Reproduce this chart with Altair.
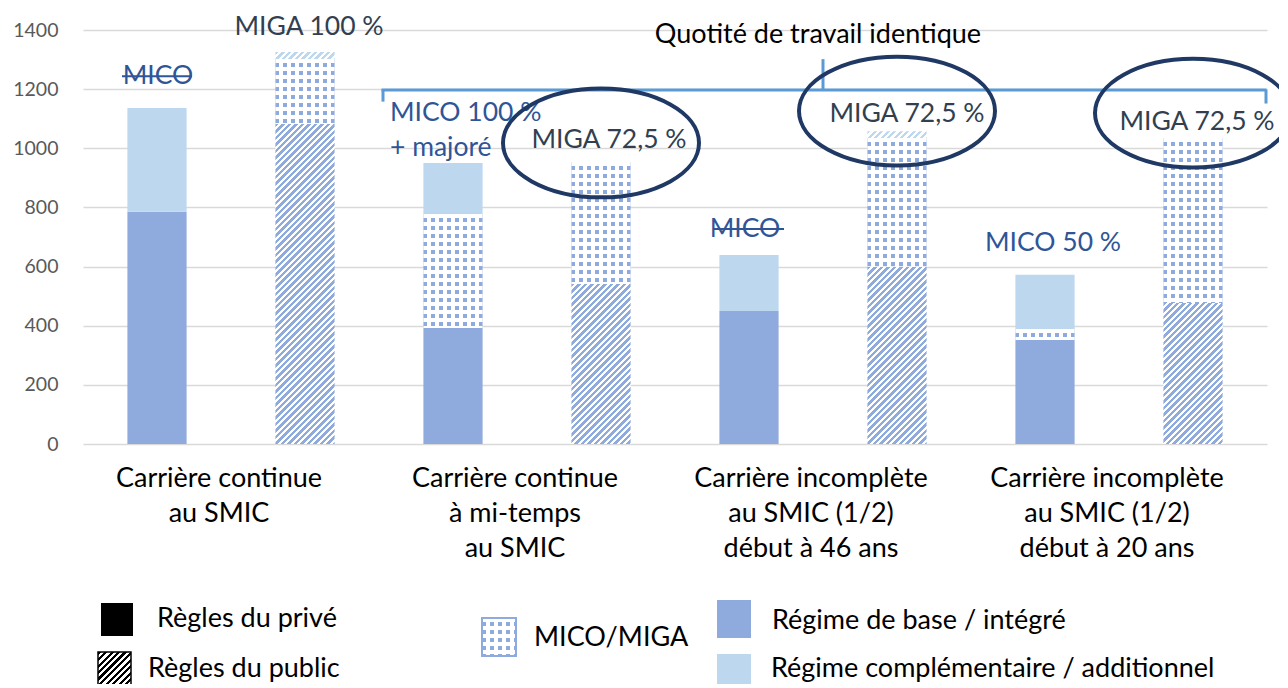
import altair as alt
import pandas as pd

# ---------------- data ----------------
groups = ["Carrière continue|au SMIC",
          "Carrière continue|à mi-temps|au SMIC",
          "Carrière incomplète|au SMIC (1/2)|début à 46 ans",
          "Carrière incomplète|au SMIC (1/2)|début à 20 ans"]
rules = ["privé", "public"]
base_prive = [785, 392, 450, 352]
mico_prive = [0, 386, 0, 37]
compl_prive = [351, 172, 189, 183]
base_public = [1082, 541, 599, 477]
miga_public = [220, 413, 436, 558]
compl_public = [24, 0, 23, 0]
y_ticks = [0, 200, 400, 600, 800, 1000, 1200, 1400]

ann_text = ["MIGA 100 %", "MICO", "MICO 100 %", "+ majoré", "MIGA 72,5 %",
            "MICO", "MIGA 72,5 %", "MICO 50 %", "MIGA 72,5 %"]
ann_group = [0, 0, 1, 1, 1, 2, 2, 3, 3]
ann_rule = ["public", "privé", "privé", "privé", "public", "privé", "public", "privé", "public"]
ann_y = [1415, 1248, 1123, 1004, 1032, 731, 1121, 683, 1092]

strike_group = [0, 2]
strike_y = [1244, 727]

ellipse_group = [1, 2, 3]
ellipse_y = [1018, 1126, 1119]

bracket_text = "Quotité de travail identique"
bracket_text_y = 1388
bracket_y = 1197
legend_labels = ["Règles du privé", "Règles du public", "MICO/MIGA",
                 "Régime de base / intégré", "Régime complémentaire / additionnel"]

# ---------------- styling ----------------
W, H, YMAX = 1184, 414, 1400
PX = H / YMAX
BAR_W = W / 8 * 0.4
BASE = "#8faadc"
COMPL = "#bdd7ee"
WHITE = "#ffffff"
CLEAR = "rgba(255,255,255,0)"
BLUE_TXT = "#2f5597"
DARK_TXT = "#333f50"
NAVY = "#1f3864"
BRACKET = "#5b9bd5"
FONT = "Lato"


def band_stops(c1, c2, length, period, frac=0.5):
    stops = []
    s = 0.0
    while s < length - 1e-6:
        m = min(s + period * frac, length)
        e = min(s + period, length)
        stops += [{"offset": round(s / length, 5), "color": c1},
                  {"offset": round(m / length, 5), "color": c1}]
        if m < length:
            stops += [{"offset": round(m / length, 5), "color": c2},
                      {"offset": round(e / length, 5), "color": c2}]
        s += period
    return stops


def hatch(c1, c2, w, h, period=6.5):
    L = w + h
    k = L / (w * w + h * h)
    return {"gradient": "linear", "x1": 0, "y1": 0, "x2": round(k * w, 6),
            "y2": round(k * h, 6), "stops": band_stops(c1, c2, L, period)}


def columns(c1, c2, w, period=8.0, frac=0.45):
    return {"gradient": "linear", "x1": 0, "y1": 0, "x2": 1, "y2": 0,
            "stops": band_stops(c1, c2, w, period, frac)}


def rows_(c1, c2, h, period=8.0, frac=0.55):
    return {"gradient": "linear", "x1": 0, "y1": 0, "x2": 0, "y2": 1,
            "stops": band_stops(c1, c2, h, period, frac)}


# ---------------- table ----------------
recs = []
for gi, g in enumerate(groups):
    for rule, comps in (("privé", [("base", base_prive[gi]), ("mico", mico_prive[gi]), ("compl", compl_prive[gi])]),
                        ("public", [("base", base_public[gi]), ("mico", miga_public[gi]), ("compl", compl_public[gi])])):
        acc = 0
        for comp, v in comps:
            if v > 0:
                recs.append({"id": len(recs), "group": g, "rule": rule, "comp": comp,
                             "y0": acc, "y1": acc + v})
            acc += v
df = pd.DataFrame(recs)


def fill_a(r):
    h = (r["y1"] - r["y0"]) * PX
    if r["comp"] == "mico":
        return columns(BASE, WHITE, BAR_W)
    col = BASE if r["comp"] == "base" else COMPL
    if r["rule"] == "privé":
        return col
    return hatch(col, WHITE, BAR_W, h)


conds_a = [{"test": f"datum.id === {r['id']}", "value": fill_a(r)} for r in recs]
conds_b = [{"test": f"datum.id === {r['id']}",
            "value": rows_(WHITE, CLEAR, (r["y1"] - r["y0"]) * PX)}
           for r in recs if r["comp"] == "mico"]

xscale = alt.Scale(domain=groups, paddingInner=0, paddingOuter=0)
yscale = alt.Scale(domain=[0, YMAX], nice=False)
XO = alt.XOffset("rule:N", sort=rules, scale=alt.Scale(domain=rules, paddingInner=0.6, paddingOuter=0.3))

AX = alt.Axis(title=None, labelExpr="split(datum.label, '|')", labelAngle=0,
              labelFontSize=27, labelLineHeight=35, labelPadding=21,
              labelColor="#000000", labelFont=FONT, ticks=False, tickSize=0,
              domain=False, labelLimit=400, labelOffset=-12, grid=False,
              labelOverlap=False)
AY = alt.Axis(values=y_ticks, format="d", title=None, grid=True, gridColor="#d9d9d9",
              gridWidth=1.3, domain=False, ticks=False, tickSize=0,
              labelPadding=25, labelFontSize=19.5, labelColor="#595959",
              labelFont=FONT)


def X_(field="group:N"):
    return alt.X(field, sort=groups, scale=xscale, axis=AX)


def Y_(field):
    return alt.Y(field, scale=yscale, axis=AY)


bars_a = alt.Chart(df).mark_bar().encode(
    x=X_(), xOffset=XO, y=Y_("y0:Q"), y2="y1:Q",
    fill={"condition": conds_a, "value": BASE})

bars_b = alt.Chart(df).transform_filter(alt.datum.comp == "mico").mark_bar().encode(
    x=X_(), xOffset=XO, y=Y_("y0:Q"), y2="y1:Q",
    fill={"condition": conds_b, "value": CLEAR})

layers = [bars_a, bars_b]

# bracket "Quotité de travail identique"
br = pd.DataFrame({"group": [groups[1], groups[2], groups[3]],
                   "y": [bracket_y, bracket_y, bracket_y]})
layers.append(alt.Chart(br).transform_filter(alt.datum.group == groups[2]).mark_tick(
    orient="horizontal", size=885, thickness=3, color=BRACKET, opacity=1, xOffset=1).encode(
    x=X_(), y=Y_("y:Q")))
layers.append(alt.Chart(br).transform_filter(alt.datum.group == groups[1])
              .transform_calculate(yc="datum.y - 19").mark_tick(
    orient="vertical", size=12, thickness=3, color=BRACKET, opacity=1, xOffset=-144).encode(
    x=X_(), y=Y_("yc:Q")))
layers.append(alt.Chart(br).transform_filter(alt.datum.group == groups[3])
              .transform_calculate(yc="datum.y - 22").mark_tick(
    orient="vertical", size=14, thickness=3, color=BRACKET, opacity=1, xOffset=147).encode(
    x=X_(), y=Y_("yc:Q")))
layers.append(alt.Chart(br).transform_filter(alt.datum.group == groups[2])
              .transform_calculate(yc="datum.y + 52").mark_tick(
    orient="vertical", size=31, thickness=3, color=BRACKET, opacity=1).encode(
    x=X_(), y=Y_("yc:Q")))
layers.append(alt.Chart(br).transform_filter(alt.datum.group == groups[2])
              .transform_calculate(ty=str(bracket_text_y)).mark_text(
    text=bracket_text, font=FONT, fontSize=27, color="#000000", baseline="alphabetic",
    dy=9, dx=-5).encode(x=X_(), y=Y_("ty:Q")))

# annotations
ann_df = pd.DataFrame({"k": list(range(len(ann_text))), "text": ann_text,
                       "group": [groups[i] for i in ann_group], "rule": ann_rule, "y": ann_y})
ann_style = [(DARK_TXT, "center", 4), (BLUE_TXT, "center", 1), (BLUE_TXT, "left", -63),
             (BLUE_TXT, "left", -63), (DARK_TXT, "center", 8), (BLUE_TXT, "center", -4),
             (DARK_TXT, "center", 10), (BLUE_TXT, "center", 8), (DARK_TXT, "center", 4)]
for k, (col, al, dx) in enumerate(ann_style):
    layers.append(alt.Chart(ann_df).transform_filter(alt.datum.k == k).mark_text(
        font=FONT, fontSize=26.5, color=col, align=al, baseline="alphabetic", dx=dx, dy=9).encode(
        x=X_(), xOffset=XO, y=Y_("y:Q"), text="text:N"))

# strike-through on "MICO"
st = pd.DataFrame({"group": [groups[i] for i in strike_group], "y": strike_y,
                   "rule": ["privé"] * len(strike_group)})
layers.append(alt.Chart(st).mark_tick(orient="horizontal", size=70, thickness=2,
                                      color=BLUE_TXT, opacity=1).encode(
    x=X_(), xOffset=XO, y=Y_("y:Q")))

# ellipses
ELLIPSE = "M -1 0 A 1 0.555 0 1 1 1 0 A 1 0.555 0 1 1 -1 0 Z"
el = pd.DataFrame({"group": [groups[i] for i in ellipse_group], "y": ellipse_y,
                   "rule": ["public"] * len(ellipse_group)})
layers.append(alt.Chart(el).mark_point(shape=ELLIPSE, size=196 * 196, filled=False,
                                       stroke=NAVY, strokeWidth=4, opacity=1,
                                       strokeOpacity=1).encode(
    x=X_(), xOffset=XO, y=Y_("y:Q")))

# legend
one = pd.DataFrame({"k": [0]})


def lrect(x, x2, y, y2, fill, stroke=None, sw=0):
    kw = {"fill": fill}
    if stroke:
        kw.update(stroke=stroke, strokeWidth=sw)
    return alt.Chart(one).mark_rect(**kw).encode(
        x=alt.value(x), x2=alt.value(x2), y=alt.value(y), y2=alt.value(y2))


def ltext(label, x, y):
    return alt.Chart(one).mark_text(text=label, font=FONT, fontSize=27, color="#000000",
                                    align="left", baseline="middle").encode(
        x=alt.value(x), y=alt.value(y))


layers.append(lrect(18, 50, 573, 606, "#000000"))
layers.append(ltext(legend_labels[0], 74, 589))
layers.append(lrect(15, 48, 622, 657, hatch("#000000", WHITE, 33, 35, 6.5), "#000000", 1.5))
layers.append(ltext(legend_labels[1], 65, 639))
layers.append(lrect(399, 433, 588, 626, columns(BASE, WHITE, 34)))
layers.append(lrect(399, 433, 588, 626, rows_(WHITE, CLEAR, 38), BASE, 2))
layers.append(ltext(legend_labels[2], 451, 608))
layers.append(lrect(634, 668, 570, 608, BASE))
layers.append(ltext(legend_labels[3], 689, 591))
layers.append(lrect(634, 668, 624, 660, COMPL))
layers.append(ltext(legend_labels[4], 688, 639))

chart = alt.layer(*layers).properties(
    width=W, height=H,
    padding={"left": 75, "top": 22, "right": 12, "bottom": 240},
    autosize=alt.AutoSizeParams(type="none"),
    background="white",
).configure_view(strokeWidth=0)

chart.save("out.html", embed_options={"renderer": "svg", "actions": False})
